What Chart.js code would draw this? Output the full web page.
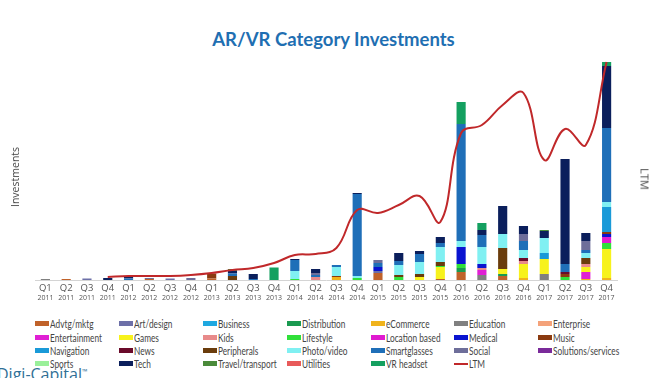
<!DOCTYPE html>
<html><head><meta charset="utf-8">
<script src="https://cdn.jsdelivr.net/npm/chart.js@4/dist/chart.umd.min.js"></script>
<style>
html,body{margin:0;padding:0;background:#fff;width:667px;height:378px;overflow:hidden;position:relative;}
#title{position:absolute;left:0;width:667px;top:28px;text-align:center;font-family:Lato,sans-serif;font-weight:700;font-size:18.5px;color:#1f6fb2;}
#wrap{position:absolute;left:0;top:0;width:667px;height:310px;}
.vt{position:absolute;font-family:"Open Sans",sans-serif;color:#444;white-space:nowrap;}
#yl{left:15px;top:177px;font-size:10.5px;transform:translate(-50%,-50%) rotate(-90deg);}
#yr{left:645px;top:179px;font-size:11px;transform:translate(-50%,-50%) rotate(90deg);}
#legend{position:absolute;left:35px;top:317px;display:grid;grid-template-columns:repeat(7,83.9px);grid-auto-rows:13.4px;font-family:Lato,sans-serif;font-size:11.5px;color:#444;}
#legend div{display:flex;align-items:center;white-space:nowrap;}
#legend span.sw{display:inline-block;flex-shrink:0;width:14px;height:5px;margin-right:1px;}
#legend span.ln{display:inline-block;flex-shrink:0;width:14px;height:2px;margin-right:1px;}
#legend span.tx{display:inline-block;transform:scaleX(0.72);transform-origin:left center;}
#brand{position:absolute;left:-3px;top:363px;font-family:"Open Sans",sans-serif;font-size:16px;color:#2f6f96;}
#brand sup{font-size:7px;}
</style></head>
<body>
<div id="title">AR/VR Category Investments</div>
<div id="wrap"><canvas id="c" width="667" height="310"></canvas></div>
<div class="vt" id="yl">Investments</div>
<div class="vt" id="yr">LTM</div>
<div id="legend"></div>
<div id="brand">Digi-Capital<sup>™</sup></div>
<script>
const quarterLabels = ['Q1','Q2','Q3','Q4','Q1','Q2','Q3','Q4','Q1','Q2','Q3','Q4','Q1','Q2','Q3','Q4','Q1','Q2','Q3','Q4','Q1','Q2','Q3','Q4','Q1','Q2','Q3','Q4'];
const yearLabels = ['2011','2011','2011','2011','2012','2012','2012','2012','2013','2013','2013','2013','2014','2014','2014','2014','2015','2015','2015','2015','2016','2016','2016','2016','2017','2017','2017','2017'];

const advtg        = [0,1,0,0, 0,1,0,0, 1.5,0,0,0, 0,0,0,0, 7,0,0,1, 8,0,4,0, 0,0,0,0];
const artDesign    = [0,0,1.5,0, 0,0,1.5,0, 0,0,0,0, 0,0,0,0, 2,0,0,0, 0,0,0,0, 0,0,0,0];
const business     = [0,0,0,0, 0,0,0,0, 0,0,0,0, 0,0,0,0, 0,0,0,0, 0,0,0,0, 0,0,0,0];
const distribution = [0,0,0,0, 0,0,0,0, 0,0,0,0, 0,0,0,0, 0,0,0,0, 4,0,2,0, 0,0,0,0];
const eCommerce    = [0,0,0,0, 0,0,0,0, 0,0,0,0, 0,0,3,0, 0,0,0,0, 0,0,0,2, 0,0,1,2];
const education    = [1,0,0,0, 0,0,0,0, 0,0,0,0, 0,0,0,0, 0,0,0,0, 0,5,0,0, 6,0,0,0];
const enterprise   = [0,0,0,0, 0,0,0,0, 0,0,0,0, 0,0,0,0, 0,0,0,0, 0,0,0,0, 0,0,0,0];
const entertainment= [0,0,0,0, 0,0,0,0, 0,0,0,0, 0,0,0,0, 0,0,0,0, 0,5,0,0, 0,0,7,0];
const games        = [0,0,0,0, 0,0,0,0, 0,0,0,0, 0,0,0,0, 0,0,3,12, 0,0,5,14, 15,0,5,29];
const kids         = [0,0,0,0, 0,0,0,0, 0,0,0,0, 0,3,0,0, 0,0,0,0, 0,2,0,3, 0,0,3,0];
const lifestyle    = [0,0,0,0, 0,0,0,0, 0,0,0,0, 1,0,0,2, 0,3,0,1, 4,0,0,0, 0,3,0,6];
const locationBased= [0,0,0,0, 0,0,0,0, 0,0,0,0, 0,0,0,0, 0,0,0,0, 0,0,0,0, 0,0,0,6];
const medical      = [0,0,0,0, 0,0,0,0, 0,0,0,0, 0,0,0,0, 4,0,0,0, 17,4,0,0, 0,0,0,3];
const music        = [0,0,0,0, 0,0,0,0, 5,0,0,0, 0,0,1,0, 0,0,0,0, 0,0,0,0, 0,3,0,2];
const navigation   = [0,0,0,0, 0,0,0,0, 0,0,0,0, 0,0,0,0, 0,0,0,0, 0,0,0,0, 6,0,0,25];
const news         = [0,0,0,0, 0,0,0,0, 0,0,0,0, 0,0,0,0, 0,0,0,0, 0,0,0,3, 0,2,0,0];
const peripherals  = [0,0,0,0, 0,0,0,0, 0,4,0,0, 0,0,0,0, 0,2,3,4, 0,0,21,0, 0,0,6,0];
const photoVideo   = [0,0,0,0, 0,0,0,0, 0,0,0,0, 8,0,9,2, 0,10,12,15, 6,17,14,8, 15,0,5,5];
const smartglasses = [0,0,0,0, 1.5,0,0,0, 0,2.5,1,0, 11,2,2,82, 4,4,8,4, 117,12,0,9, 0,8,3,74];
const social       = [0,0,0,0, 0,1,0,2, 0,0,0,0, 0,2,0,0, 3,0,0,0, 0,0,0,7, 0,0,9,0];
const solutions    = [0,0,0,0, 0,0,0,0, 0,0,0,0, 0,0,0,0, 0,0,0,0, 0,0,0,0, 0,0,0,0];
const sports       = [0,0,0,0, 0,0,0,0, 0,0,0,0, 0,0,0,0, 0,0,0,0, 0,0,0,0, 0,0,0,0];
const tech         = [0,0,0,2, 1.5,0,0,0, 0,2.5,5,0, 1,4,0,1, 0,8,3,6, 0,5,28,8, 7,105,8,62];
const travel       = [0,0,0,0, 0,0,0,0, 0,2,0,0, 0,0,0,0, 0,0,0,0, 0,0,0,0, 1,0,0,0];
const utilities    = [0,0,0,0, 0,0,0,0, 0,0,0,0, 0,0,0,0, 0,0,0,0, 0,0,0,0, 0,0,0,0];
const vrHeadset    = [0,0,0,0, 0,0,0,0, 0,0,0,12.5, 0,0,0,0, 0,0,0,0, 22,7,0,0, 0,0,0,4];
const ltm          = [null,null,null,3, 4,4,4,5, 7,10,12,17, 25,26,32,70, 67,75,84,58, 147,155,175,187, 120,151,135,218];

const seriesNames = ['Advtg/mktg','Art/design','Business','Distribution','eCommerce','Education','Enterprise','Entertainment','Games','Kids','Lifestyle','Location based','Medical','Music','Navigation','News','Peripherals','Photo/video','Smartglasses','Social','Solutions/services','Sports','Tech','Travel/transport','Utilities','VR headset'];
const seriesData = [advtg,artDesign,business,distribution,eCommerce,education,enterprise,entertainment,games,kids,lifestyle,locationBased,medical,music,navigation,news,peripherals,photoVideo,smartglasses,social,solutions,sports,tech,travel,utilities,vrHeadset];
const seriesColors = ['#c0622a','#6d70a8','#1fa8e0','#1a9a50','#f0b31c','#808080','#f4a27a','#e020d4','#f7f21c','#e88a8a','#30e03a','#e01ad0','#0a14d0','#8a3a10','#1a9ad8','#6a0a2a','#6a3c0c','#80f0f2','#1f6fb8','#6e6e9a','#7a2a9a','#9af09a','#0b1f5c','#4a8a3a','#e85a5a','#14a060'];
const ltmColor = '#c0282a';

const datasets = seriesNames.map((n,i)=>({
  type:'bar', label:n, data:seriesData[i], backgroundColor:seriesColors[i],
  xAxisID:'x', yAxisID:'y', order:1, barPercentage:0.44, categoryPercentage:1, borderWidth:0
}));
datasets.push({type:'line', label:'LTM', data:ltm, borderColor:ltmColor, backgroundColor:ltmColor,
  xAxisID:'x', yAxisID:'y1', order:0, borderWidth:2, pointRadius:0, tension:0.4, fill:false});

new Chart(document.getElementById('c'), {
  data:{labels:quarterLabels, datasets},
  options:{
    responsive:false, animation:false,
    layout:{padding:{top:58,left:0,right:0,bottom:0}},
    plugins:{legend:{display:false}, tooltip:{enabled:false}},
    scales:{
      x:{stacked:true, position:'bottom', grid:{display:false, drawTicks:false}, border:{display:true,color:'#d4d4d4'},
         ticks:{color:'#555', font:{family:'Open Sans', size:9.5}, maxRotation:0, autoSkip:false, padding:3},
         afterFit:(s)=>{s.height=12;}},
      x2:{type:'category', labels:yearLabels, position:'bottom', offset:true, grid:{display:false, drawTicks:false}, border:{display:false},
         ticks:{color:'#555', font:{family:'Open Sans', size:7}, maxRotation:0, autoSkip:false, padding:2},
         afterFit:(s)=>{s.height=18;}},
      y:{stacked:true, min:0, max:222, position:'left', grid:{display:false}, border:{display:false},
         ticks:{display:false}, afterFit:(s)=>{s.width=35;}},
      y1:{min:0, max:222, position:'right', grid:{display:false}, border:{display:false},
         ticks:{display:false}, afterFit:(s)=>{s.width=50;}}
    }
  }
});

const leg = document.getElementById('legend');
seriesNames.forEach((n,i)=>{
  const d=document.createElement('div');
  d.innerHTML='<span class="sw" style="background:'+seriesColors[i]+'"></span><span class="tx">'+n+'</span>';
  leg.appendChild(d);
});
const dl=document.createElement('div');
dl.innerHTML='<span class="ln" style="background:'+ltmColor+'"></span><span class="tx">LTM</span>';
leg.appendChild(dl);
</script>
</body></html>
